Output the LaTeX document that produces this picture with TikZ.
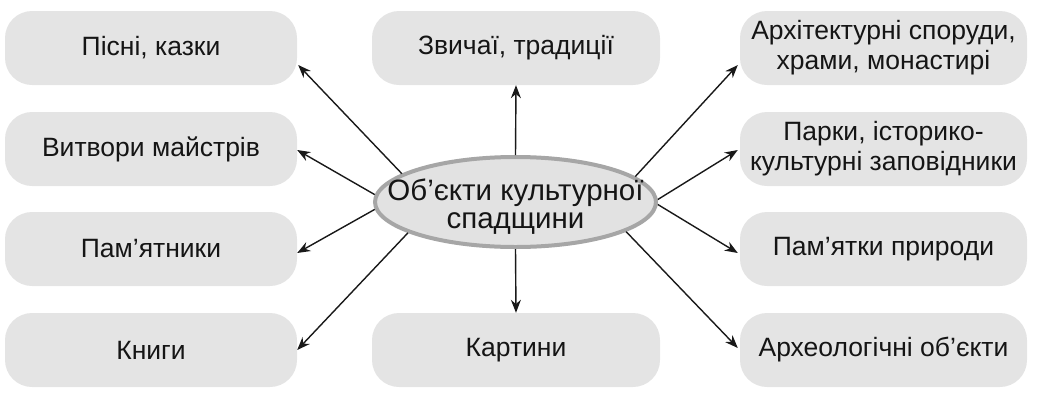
\documentclass[tikz,border=0pt]{standalone}
\usepackage{fontspec}
\setmainfont{Liberation Sans}
\usetikzlibrary{shapes.geometric,arrows.meta,calc}
\definecolor{boxfill}{HTML}{E4E4E4}
\definecolor{ellfill}{HTML}{E2E2E2}
\definecolor{elldraw}{HTML}{A6A6A6}
\definecolor{txt}{HTML}{151515}
\tikzset{
  box/.style={rounded corners=27pt, fill=boxfill, minimum width=292pt, minimum height=74pt,
    text=txt, align=center, inner sep=0pt, font=\fontsize{26.5}{30}\selectfont},
  hub/.style={ellipse, fill=ellfill, draw=elldraw, line width=4pt, minimum width=281pt,
    minimum height=90pt, inner sep=0pt},
  hubtext/.style={text=txt, align=center, inner sep=0pt, font=\fontsize{29.5}{28}\selectfont},
  arr/.style={line width=1.4pt, draw=black!90, -{Stealth[length=13pt,width=10pt]}},
}
\begin{document}
\begin{tikzpicture}[x=1pt,y=-1pt]
\useasboundingbox (0,0) rectangle (1057,402);
% left column
\node[box] (l1) at (151,48) {Пісні, казки};
\node[box] (l2) at (151,149) {Витвори майстрів};
\node[box] (l3) at (151,249) {Пам’ятники};
\node[box] (l4) at (151,350) {Книги};
% middle column
\node[box, minimum width=288pt] (m1) at (516,48) {Звичаї, традиції};
\node[box, minimum width=288pt] (m2) at (516,350) {Картини};
% right column
\node[box, minimum width=287pt] (r1) at (883.5,48) {Архітектурні споруди,\\храми, монастирі};
\node[box, minimum width=287pt] (r2) at (883.5,149) {Парки, історико-\\культурні заповідники};
\node[box, minimum width=287pt] (r3) at (883.5,249) {Пам’ятки природи};
\node[box, minimum width=287pt] (r4) at (883.5,350) {Археологічні об’єкти};
% hub
\node[hub] (c) at (515.5,202) {};
\node[hubtext] (ct) at (515.5,207) {Об’єкти культурної\\спадщини};
% arrows
\draw[arr] (c.north) -- (m1.south);
\draw[arr] (c.south) -- (m2.north);
\draw[arr] (c.166) -- ($(l1.east)+(1,17)$);
\draw[arr] (c.177.6) -- ($(l2.east)+(0,1)$);
\draw[arr] (c.183.2) -- ($(l3.east)+(0,4)$);
\draw[arr] (c.196.4) -- (l4.east);
\draw[arr] (c.12.5) -- ($(r1.west)+(-2,17)$);
\draw[arr] (c.1.2) -- ($(r2.west)+(-2,1)$);
\draw[arr] (c.-1.6) -- ($(r3.west)+(-2,4)$);
\draw[arr] (c.-15.6) -- ($(r4.west)+(-2,-2)$);
\end{tikzpicture}
\end{document}
